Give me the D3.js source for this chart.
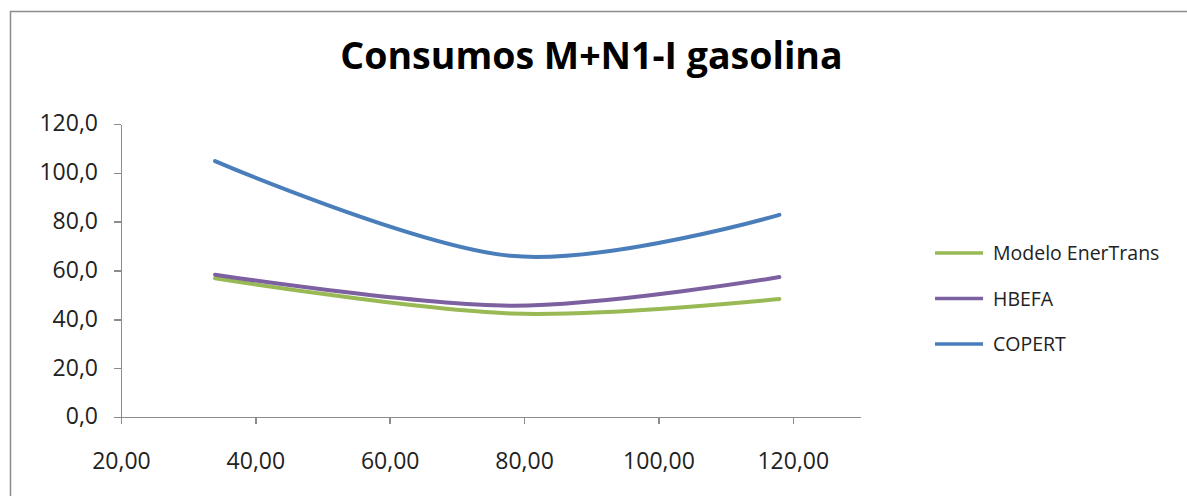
<!DOCTYPE html>
<html>
<head>
<meta charset="utf-8">
<script src="https://cdn.jsdelivr.net/npm/d3@7"></script>
<style>
  html, body { margin: 0; padding: 0; background: #ffffff; }
  svg { display: block; }
  .axis path, .axis line { stroke: #8c8c8c; stroke-width: 1.5; shape-rendering: crispEdges; }
  .axis text { font-family: "Open Sans", sans-serif; font-size: 23px; fill: #222; }
</style>
</head>
<body>
<svg id="chart" width="1187" height="496"></svg>
<script>
// Speeds (km/h) and fuel consumption for each model
const speeds = [34, 78, 118];
const modeloEnerTrans = [56.8, 42.4, 48.3];
const hbefa = [58.3, 45.6, 57.3];
const copert = [104.8, 66.0, 82.8];

const seriesNames = ["Modelo EnerTrans", "HBEFA", "COPERT"];
const seriesColors = ["#98B954", "#7D60A0", "#4A7EBB"];

const xTicks = [20, 40, 60, 80, 100, 120];
const xTickLabels = ["20,00", "40,00", "60,00", "80,00", "100,00", "120,00"];
const yTicks = [0, 20, 40, 60, 80, 100, 120];
const yTickLabels = ["0,0", "20,0", "40,0", "60,0", "80,0", "100,0", "120,0"];

const titleText = "Consumos M+N1-I gasolina";

const svg = d3.select("#chart");

// chart area frame
svg.append("rect")
  .attr("x", 10.5).attr("y", 11.5)
  .attr("width", 1200).attr("height", 520)
  .attr("fill", "#ffffff")
  .attr("stroke", "#8c8c8c").attr("stroke-width", 1.5);

const plot = { left: 121, right: 860, top: 124, bottom: 417 };

const x = d3.scaleLinear().domain([20, 130]).range([plot.left, plot.right]);
const y = d3.scaleLinear().domain([0, 120]).range([plot.bottom, plot.top]);

// title
svg.append("text")
  .attr("x", 591.5).attr("y", 69)
  .attr("text-anchor", "middle")
  .attr("font-family", "Open Sans, sans-serif")
  .attr("font-weight", "bold")
  .attr("font-size", 37.5)
  .attr("fill", "#000")
  .text(titleText);

// axes
const yAxis = d3.axisLeft(y)
  .tickValues(yTicks)
  .tickFormat((d, i) => yTickLabels[i])
  .tickSizeInner(7).tickSizeOuter(0).tickPadding(16);
svg.append("g").attr("class", "axis")
  .attr("transform", `translate(${plot.left},0)`)
  .call(yAxis)
  .selectAll("text").attr("dy", "0.3em");

const xAxis = d3.axisBottom(x)
  .tickValues(xTicks)
  .tickFormat((d, i) => xTickLabels[i])
  .tickSizeInner(7).tickSizeOuter(0).tickPadding(29);
svg.append("g").attr("class", "axis")
  .attr("transform", `translate(0,${plot.bottom})`)
  .call(xAxis);

// smoothed series lines
const line = d3.line()
  .x(d => x(d[0]))
  .y(d => y(d[1]))
  .curve(d3.curveCardinal.tension(0));

const allSeries = [modeloEnerTrans, hbefa, copert];
allSeries.forEach((vals, i) => {
  svg.append("path")
    .datum(speeds.map((s, j) => [s, vals[j]]))
    .attr("fill", "none")
    .attr("stroke", seriesColors[i])
    .attr("stroke-width", 4)
    .attr("stroke-linecap", "round")
    .attr("d", line);
});

// legend
const legend = svg.append("g").attr("transform", "translate(935,253)");
seriesNames.forEach((name, i) => {
  const g = legend.append("g").attr("transform", `translate(0,${i * 45.5})`);
  g.append("line")
    .attr("x1", 0).attr("x2", 48)
    .attr("stroke", seriesColors[i]).attr("stroke-width", 3.5);
  g.append("text")
    .attr("x", 58).attr("dy", "0.36em")
    .attr("font-family", "Open Sans, sans-serif")
    .attr("font-size", 19.5)
    .attr("fill", "#222")
    .text(name);
});
</script>
</body>
</html>
